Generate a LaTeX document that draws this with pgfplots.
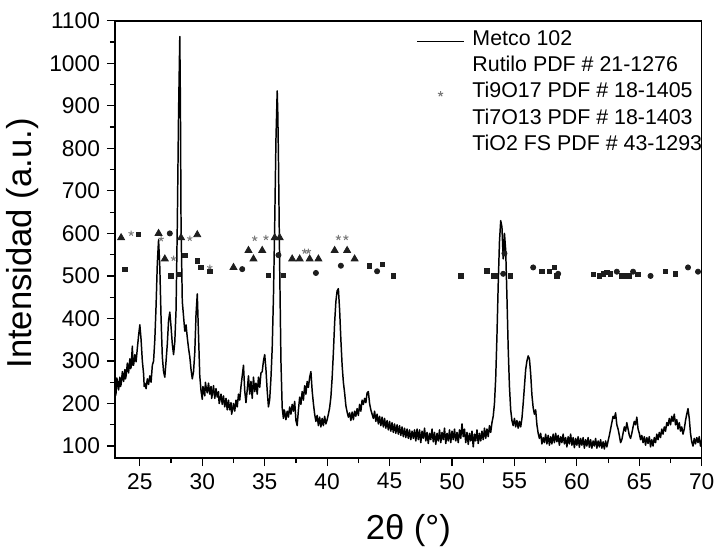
\documentclass[border=0pt]{standalone}
\usepackage{pgfplots}
\pgfplotsset{compat=1.18}
\usepackage{fontspec}
\setmainfont{Liberation Sans}
\usetikzlibrary{calc}
\definecolor{mk}{HTML}{1E1E1E}
\definecolor{st}{HTML}{7A7A7A}
\pgfplotsset{
  lineleg/.style={legend image code/.code={\draw[##1] (0pt,0pt) -- (23.5pt,0pt);}},
  starleg/.style={legend image code/.code={\draw[##1] plot coordinates {(11.75pt,0pt)};}},
  noleg/.style={legend image code/.code={}},
}
\begin{document}
\begin{tikzpicture}
\begin{axis}[
  scale only axis,
  width=296.5pt, height=221pt,
  xmin=23, xmax=70, ymin=71.4, ymax=1100,
  xtick={25,30,...,70}, ytick={100,200,...,1100},
  minor x tick num=1, minor y tick num=1,
  tick pos=left, tick align=outside,
  major tick length=4pt, minor tick length=2.5pt,
  every tick/.style={black, line width=0.6pt},
  axis line style={line width=0.75pt},
  /pgf/number format/assume math mode=true,
  /pgf/number format/1000 sep={},
  ticklabel style={font=\fontsize{11.5}{13}\selectfont},
  xlabel={2θ (°)}, ylabel={Intensidad (a.u.)},
  label style={font=\fontsize{17.5}{20}\selectfont},
  xlabel style={at={(axis description cs:0.5,-0.165)}, anchor=center},
  ylabel style={at={(axis description cs:-0.157,0.491)}, anchor=center},
  legend style={draw=none, fill=none, inner sep=0pt, outer sep=0pt,
    at={(0.514,0.982)}, anchor=north west, column sep=4pt, row sep=0pt,
    nodes={font=\fontsize{10.8}{13}\selectfont, text height=8.6pt, text depth=4.6pt, inner sep=0pt}},
  legend cell align=left,
]
\addplot[black, line width=0.75pt, line join=round, lineleg] table {
23.0 240
23.05 218
23.1 225
23.15 260
23.2 255
23.3 232
23.4 262
23.45 240
23.5 245
23.6 275
23.7 252
23.8 280
23.85 258
23.9 265
24.0 295
24.1 272
24.2 305
24.25 282
24.3 285
24.4 335
24.45 290
24.5 290
24.6 315
24.7 298
24.8 330
24.9 360
25.0 385
25.1 350
25.2 300
25.3 270
25.35 240
25.4 248
25.5 235
25.6 258
25.7 245
25.8 265
25.9 250
26.0 290
26.1 300
26.2 350
26.3 430
26.4 530
26.5 585
26.6 520
26.7 400
26.8 310
26.9 275
27.0 262
27.1 300
27.2 340
27.3 395
27.4 415
27.5 380
27.6 340
27.7 315
27.8 345
27.9 420
28.0 620
28.1 880
28.2 1063
28.25 900
28.3 620
28.4 440
28.5 405
28.6 370
28.7 385
28.8 355
28.9 330
29.0 310
29.1 280
29.2 258
29.3 275
29.4 320
29.5 410
29.6 458
29.7 360
29.8 265
29.9 230
30.0 210
30.05 240
30.1 235
30.2 218
30.25 250
30.3 240
30.4 225
30.5 248
30.6 222
30.7 240
30.75 212
30.8 220
30.9 242
31.0 212
31.1 235
31.2 215
31.3 228
31.35 200
31.4 205
31.5 222
31.6 198
31.7 218
31.8 192
31.9 212
32.0 185
32.1 208
32.2 185
32.3 202
32.35 175
32.4 182
32.5 200
32.6 182
32.7 208
32.8 192
32.9 222
33.0 208
33.1 240
33.2 265
33.3 290
33.4 230
33.5 202
33.6 232
33.7 265
33.8 222
33.9 252
34.0 212
34.1 262
34.2 228
34.3 248
34.4 222
34.5 262
34.6 238
34.7 272
34.8 275
34.9 300
35.0 315
35.1 280
35.2 230
35.3 192
35.4 210
35.5 260
35.6 330
35.7 450
35.8 620
35.9 820
36.0 935
36.05 880
36.1 780
36.2 520
36.3 300
36.4 190
36.5 165
36.55 185
36.6 182
36.7 162
36.8 182
36.9 168
37.0 192
37.1 175
37.2 198
37.3 182
37.4 205
37.5 160
37.6 148
37.7 185
37.8 215
37.9 198
38.0 228
38.1 208
38.2 242
38.3 222
38.4 252
38.5 238
38.6 262
38.7 275
38.8 230
38.9 200
39.0 175
39.1 158
39.2 172
39.3 148
39.4 168
39.5 145
39.6 165
39.7 148
39.8 170
39.9 152
40.0 162
40.1 175
40.2 190
40.3 215
40.4 260
40.5 320
40.6 390
40.7 440
40.8 465
40.9 470
41.0 420
41.1 350
41.2 290
41.3 250
41.4 225
41.5 195
41.6 180
41.7 168
41.8 178
41.9 160
42.0 180
42.1 162
42.2 182
42.3 170
42.4 188
42.5 172
42.6 198
42.7 182
42.8 208
42.9 198
43.0 212
43.1 202
43.2 225
43.3 228
43.4 200
43.5 185
43.6 175
43.7 165
43.8 182
43.9 158
44.0 175
44.1 152
44.2 170
44.3 148
44.4 168
44.5 145
44.6 165
44.7 142
44.8 160
44.9 138
45.0 158
45.1 135
45.2 155
45.3 132
45.4 152
45.5 130
45.6 150
45.7 128
45.8 148
45.9 125
46.0 145
46.1 122
46.2 142
46.3 120
46.4 140
46.5 118
46.6 138
46.7 115
46.8 135
46.9 118
47.0 138
47.1 112
47.2 140
47.3 115
47.4 138
47.5 108
47.6 135
47.7 118
47.8 142
47.9 112
48.0 132
48.1 106
48.2 130
48.3 115
48.4 140
48.5 110
48.6 132
48.7 104
48.8 130
48.9 112
49.0 138
49.1 108
49.2 132
49.3 115
49.4 142
49.5 106
49.6 130
49.7 112
49.8 138
49.9 108
50.0 135
50.1 115
50.2 140
50.3 112
50.4 132
50.5 108
50.6 138
50.7 118
50.8 152
50.9 122
51.0 140
51.1 108
51.2 132
51.3 104
51.4 130
51.5 112
51.6 135
51.7 98
51.8 128
51.9 112
52.0 138
52.1 106
52.2 130
52.3 112
52.4 135
52.5 115
52.6 142
52.7 118
52.8 140
52.9 122
53.0 148
53.1 132
53.2 155
53.3 170
53.4 200
53.5 260
53.6 360
53.7 480
53.8 580
53.9 630
54.0 615
54.1 540
54.15 560
54.2 600
54.3 560
54.4 450
54.5 330
54.6 240
54.7 185
54.8 160
54.9 148
55.0 165
55.1 145
55.2 160
55.3 142
55.4 158
55.5 145
55.6 165
55.7 200
55.8 240
55.9 280
56.0 300
56.1 312
56.2 305
56.3 270
56.4 220
56.5 190
56.6 175
56.7 185
56.8 150
56.9 130
57.0 118
57.1 130
57.2 105
57.3 120
57.4 108
57.5 128
57.6 105
57.7 125
57.8 102
57.9 122
58.0 105
58.1 128
58.2 108
58.3 130
58.4 110
58.5 125
58.6 102
58.7 122
58.8 108
58.9 128
59.0 105
59.1 120
59.2 98
59.3 122
59.4 105
59.5 128
59.6 102
59.7 120
59.8 96
59.9 118
60.0 102
60.1 122
60.2 97
60.3 118
60.4 102
60.5 120
60.6 95
60.7 115
60.8 100
60.9 120
61.0 97
61.1 115
61.2 95
61.3 112
61.4 100
61.5 118
61.6 95
61.7 112
61.8 98
61.9 115
62.0 95
62.1 110
62.2 93
62.3 112
62.4 98
62.5 112
62.6 125
62.7 140
62.8 155
62.9 170
63.0 165
63.1 178
63.2 150
63.3 140
63.4 125
63.5 108
63.6 115
63.7 130
63.8 145
63.9 135
64.0 155
64.1 140
64.2 125
64.3 118
64.4 130
64.5 145
64.6 158
64.7 150
64.8 168
64.9 140
65.0 130
65.1 115
65.2 125
65.3 108
65.4 122
65.5 102
65.6 120
65.7 106
65.8 122
65.9 98
66.0 115
66.1 100
66.2 120
66.3 108
66.4 128
66.5 115
66.6 132
66.7 120
66.8 140
66.9 128
67.0 145
67.1 135
67.2 155
67.3 148
67.4 165
67.5 150
67.6 170
67.7 158
67.8 175
67.9 150
68.0 162
68.1 140
68.2 155
68.3 135
68.4 145
68.5 128
68.6 140
68.7 160
68.8 175
68.9 188
69.0 165
69.1 130
69.2 110
69.3 100
69.4 118
69.5 105
69.6 120
69.7 108
69.8 122
69.9 100
70.0 115
};
\addlegendentry{Metco 102}
% Rutilo (circles)
\addplot[only marks, mark=*, mark size=1.3pt, color=mk, noleg] table {
27.4 600
33.2 516
36.1 549
39.1 507
41.1 524
44.0 511
54.1 505
54.2 553
56.5 520
58.5 505
63.2 510
64.5 510
65.9 500
68.9 520
69.7 510
};
\addlegendentry{ Rutilo PDF \# 21-1276}
% Ti9O17 (stars)
\addplot[only marks, mark=star, mark size=1.4pt, color=st, line width=0.5pt, starleg] table {
24.3 600
26.7 587
27.7 541
29.0 588
30.6 520
34.2 588
35.1 590
38.2 558
38.5 558
40.9 590
41.5 590
};
\addlegendentry{Ti9O17 PDF \# 18-1405}
% Ti7O13 (triangles)
\addplot[only marks, mark=triangle*, mark size=2.0pt, color=mk, noleg] table {
23.5 590
26.5 600
27.0 540
28.3 590
29.6 597
32.5 520
33.7 560
34.1 540
34.8 560
35.8 590
36.2 590
37.2 540
37.8 540
38.6 540
39.3 540
40.6 560
41.6 560
42.2 540
};
\addlegendentry{Ti7O13 PDF \# 18-1403}
% TiO2 FS (squares)
\addplot[only marks, mark=square*, mark size=1.1pt, color=mk, noleg] table {
23.8 516
24.9 597
27.5 500
28.1 504
28.6 549
29.6 535
29.9 520
30.6 510
35.3 501
36.5 501
43.4 524
44.4 527
45.3 500
50.7 500
52.8 512
53.3 500
53.5 500
54.7 500
57.2 510
57.8 510
58.2 520
58.4 500
61.3 503
61.8 500
62.1 505
62.4 508
62.7 505
63.6 500
63.9 500
64.2 500
64.9 503
67.1 510
67.9 505
};
\addlegendentry{TiO2 FS PDF \# 43-1293}
\end{axis}
\path ($(current axis.south west)+(-56.5pt,-44pt)$) rectangle ($(current axis.north east)+(7.5pt,10.5pt)$);
\end{tikzpicture}
\end{document}
